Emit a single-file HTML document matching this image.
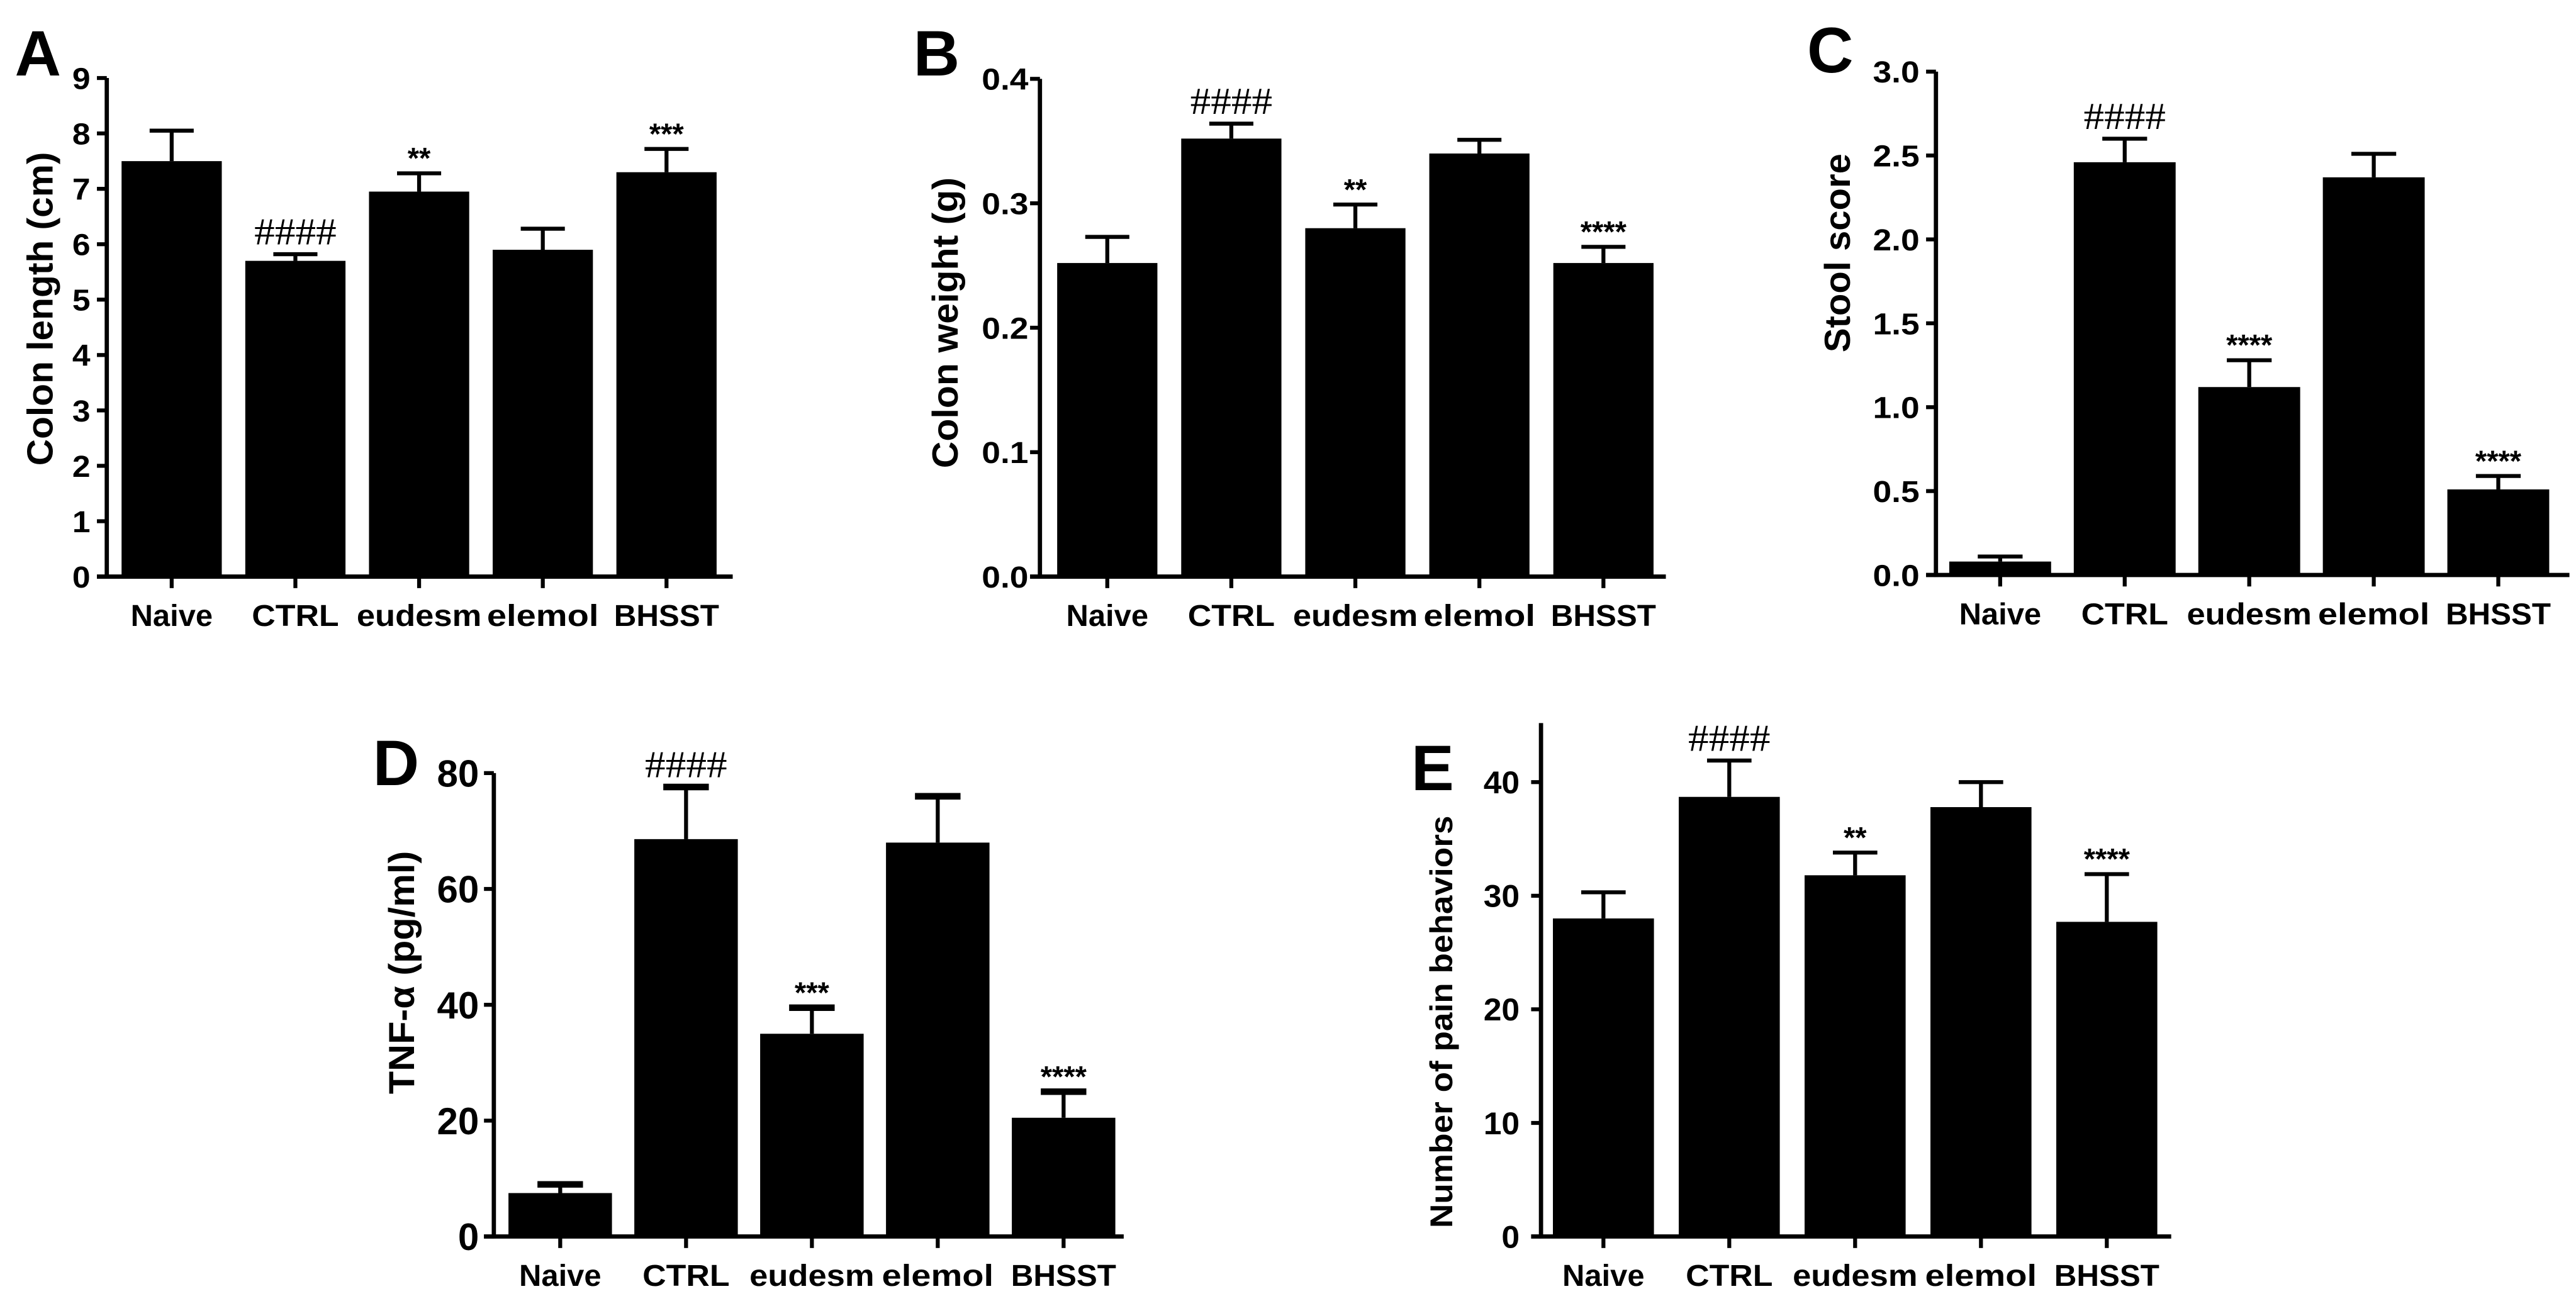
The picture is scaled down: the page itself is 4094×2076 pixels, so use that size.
<!DOCTYPE html>
<html><head><meta charset="utf-8"><style>
html,body{margin:0;padding:0;background:#fff;}
svg{display:block;}
text{font-family:"Liberation Sans",Arial,sans-serif;font-weight:bold;fill:#000;}
.hash{font-family:"Liberation Serif",serif;font-weight:normal;}
</style></head><body>
<svg id="fig" width="4094" height="2076" viewBox="0 0 1568 795" preserveAspectRatio="none" xmlns="http://www.w3.org/2000/svg"></svg>
<script>
const categories = ["Naive","CTRL","eudesm","elemol","BHSST"];
const valuesA = [7.5,5.7,6.95,5.9,7.3];
const errorsA = [0.55,0.12,0.33,0.38,0.42];
const marksA = ["","####","**","","***"];
const ticksA = [0,1,2,3,4,5,6,7,8,9];
const valuesB = [0.252,0.352,0.28,0.34,0.252];
const errorsB = [0.021,0.012,0.019,0.011,0.013];
const marksB = ["","####","**","","****"];
const ticksB = [0.0,0.1,0.2,0.3,0.4];
const valuesC = [0.08,2.46,1.12,2.37,0.51];
const errorsC = [0.03,0.14,0.16,0.14,0.08];
const marksC = ["","####","****","","****"];
const ticksC = [0.0,0.5,1.0,1.5,2.0,2.5,3.0];
const valuesD = [7.5,68.6,35,68,20.5];
const errorsD = [1.5,9,4.5,8,4.5];
const marksD = ["","####","***","","****"];
const ticksD = [0,20,40,60,80];
const valuesE = [28,38.7,31.8,37.8,27.7];
const errorsE = [2.3,3.2,2,2.2,4.2];
const marksE = ["","####","**","","****"];
const ticksE = [0,10,20,30,40];

const NS="http://www.w3.org/2000/svg";
const svg=document.getElementById('fig');
function mk(tag,attrs,parent){const e=document.createElementNS(NS,tag);for(const k in attrs)e.setAttribute(k,attrs[k]);(parent||svg).appendChild(e);return e;}
const catLen={Naive:50,CTRL:53,eudesm:76,elemol:68,BHSST:64};
function tl(s,cw){let n=0;for(const c of s)n+=(c==='.'?cw*0.45:cw);return n;}

function panel(cfg){
  const g=mk('g',{});
  
  
  const ys=v=>cfg.bot-(v/cfg.max)*(cfg.bot-cfg.top);
  const xc=i=>cfg.c0+i*cfg.step;
  const L=mk('text',{x:cfg.lx,y:cfg.ly,'font-size':39},g);L.textContent=cfg.id;
  
  
  cfg.vals.forEach((v,i)=>{
    const r=mk('rect',{x:xc(i)-cfg.w/2,y:ys(v),width:cfg.w,height:cfg.bot-ys(v),fill:'#000'},g);
    
    
    const et=ys(v+cfg.errs[i]);
    const el=mk('line',{x1:xc(i),x2:xc(i),y1:ys(v),y2:et,stroke:'#000','stroke-width':2.4},g);
    
    
    mk('line',{x1:xc(i)-cfg.w*0.22,x2:xc(i)+cfg.w*0.22,y1:et,y2:et,stroke:'#000','stroke-width':cfg.capW},g);
    if(cfg.marks[i]){
      const isHash=cfg.marks[i][0]==='#';
      const a={x:xc(i),y:et-(isHash?6:3),'text-anchor':'middle','font-size':isHash?23:18,'class':isHash?'hash':''};
      if(isHash){a.textLength=50;a.lengthAdjust='spacingAndGlyphs';}
      const t=mk('text',a,g);
      t.textContent=cfg.marks[i];
      
      
    }
    const lt=mk('text',{x:xc(i),y:cfg.bot+30,'text-anchor':'middle','font-size':18.5,textLength:catLen[categories[i]],lengthAdjust:'spacingAndGlyphs'},g);
    lt.textContent=categories[i];
    
    
    mk('line',{x1:xc(i),x2:xc(i),y1:cfg.bot,y2:cfg.bot+7,stroke:'#000','stroke-width':2.4},g);
  });
  const ya=mk('line',{x1:cfg.ax,x2:cfg.ax,y1:ys(cfg.axTop),y2:cfg.bot+1.2,stroke:'#000','stroke-width':2.6},g);
  
  
  const xa=mk('line',{x1:cfg.ax-6,x2:cfg.end,y1:cfg.bot,y2:cfg.bot,stroke:'#000','stroke-width':2.6},g);
  
  
  cfg.ticks.forEach(t=>{
    mk('line',{x1:cfg.ax-6,x2:cfg.ax,y1:ys(t),y2:ys(t),stroke:'#000','stroke-width':2.4},g);
    const s=cfg.fmt(t);
    const tt=mk('text',{x:cfg.ax-cfg.gap,y:ys(t)+cfg.tf*0.36,'text-anchor':'end','font-size':cfg.tf,textLength:tl(s,cfg.cw),lengthAdjust:'spacingAndGlyphs'},g);
    tt.textContent=s;
    
    
  });
  const yt=mk('text',{x:0,y:0,'text-anchor':'middle','font-size':cfg.ttf,textLength:cfg.tlen,lengthAdjust:'spacingAndGlyphs',transform:`translate(${cfg.tx},${cfg.ty}) rotate(-90)`},g);
  yt.textContent=cfg.title;
  
  
}
const f0=t=>String(t), f1=t=>t.toFixed(1);
panel({id:'A',vals:valuesA,errs:errorsA,marks:marksA,ticks:ticksA,fmt:f0,max:9,axTop:9,ax:65,c0:104.5,step:75.3,w:61,end:446,top:47.5,bot:351,lx:9,ly:46,tx:32,ty:188,tlen:191,ttf:22,tf:18.5,cw:11,gap:10,capW:2.4,title:'Colon length (cm)'});
panel({id:'B',vals:valuesB,errs:errorsB,marks:marksB,ticks:ticksB,fmt:f1,max:0.4,axTop:0.4,ax:633,c0:674,step:75.5,w:61,end:1014,top:48,bot:351,lx:556,ly:46,tx:583,ty:196.5,tlen:177,ttf:22,tf:18.5,cw:11.6,gap:7,capW:2.4,title:'Colon weight (g)'});
panel({id:'C',vals:valuesC,errs:errorsC,marks:marksC,ticks:ticksC,fmt:f1,max:3,axTop:3,ax:1178.4,c0:1217.5,step:75.8,w:62,end:1564,top:43.6,bot:350,lx:1100,ly:44,tx:1126,ty:154,tlen:121,ttf:22,tf:18.5,cw:11.6,gap:10,capW:2.4,title:'Stool score'});
panel({id:'D',vals:valuesD,errs:errorsD,marks:marksD,ticks:ticksD,fmt:f0,max:80,axTop:80,ax:300.6,c0:341,step:76.6,w:63,end:684,top:470.6,bot:752.7,lx:227,ly:478,tx:252,ty:592,tlen:148,ttf:22,tf:23,cw:12.8,gap:9,capW:4,title:'TNF-α (pg/ml)'});
panel({id:'E',vals:valuesE,errs:errorsE,marks:marksE,ticks:ticksE,fmt:f0,max:40,axTop:45.2,ax:938,c0:976,step:76.6,w:61.5,end:1321.6,top:476.1,bot:752.7,lx:859,ly:481,tx:884,ty:622,tlen:251,ttf:19,tf:19,cw:11,gap:13,capW:2.4,title:'Number of pain behaviors'});
</script>
</body></html>
